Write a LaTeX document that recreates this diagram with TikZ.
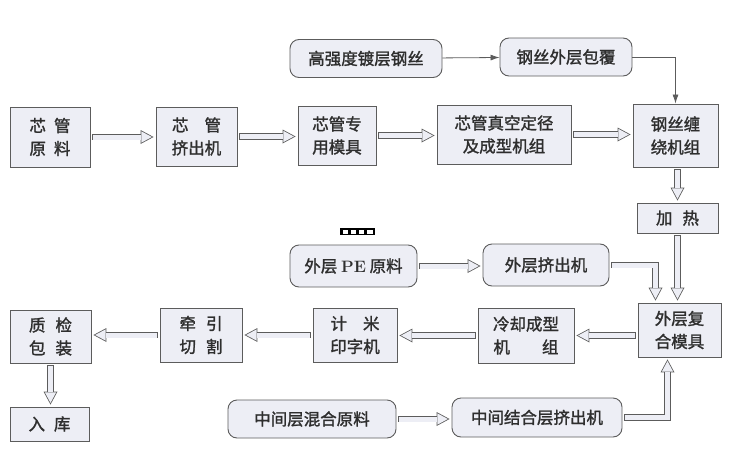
\documentclass[tikz,border=0pt]{standalone}
\usepackage{fontspec}
\usepackage{tikz}
\usetikzlibrary{arrows.meta,calc}
\newfontfamily\cjk[FakeBold=1.5]{Noto Sans CJK SC}
\definecolor{boxfill}{HTML}{EDEEF5}
\definecolor{edgegray}{HTML}{5C5C5C}
\definecolor{textgray}{HTML}{2E2E2E}
\tikzset{
  box/.style={
    draw=edgegray,
    fill=boxfill,
    line width=0.9pt,
    align=center,
    text=textgray,
    font=\cjk\fontsize{16.5}{23}\selectfont,
    inner sep=0pt
  },
  roundbox/.style={box, rounded corners=9pt},
  thinline/.style={draw=edgegray, line width=0.8pt, -{Latex[length=9pt,width=6pt]}},
  hollow/.style={
    draw=edgegray, line width=6.6pt, shorten >=2pt, shorten <=2pt,
    -{Triangle[length=13pt,width=14pt,line width=0pt]},
    postaction={draw=boxfill, line width=5pt, shorten >=3.7pt, shorten <=2.8pt,
      -{Triangle[length=10.5pt,width=11.3pt,line width=0pt]}}
  }
}

\begin{document}
\begin{tikzpicture}[x=1pt,y=-1pt]
  \path[use as bounding box] (0,0) rectangle (733,463);

  % steel wire feed
  \node[roundbox, minimum width=152, minimum height=38] (wire) at (366,58.5) {高强度镀层钢丝};
  \node[roundbox, minimum width=132, minimum height=38] (coat) at (566,57) {钢丝外层包覆};

  % core pipe line
  \node[box, minimum width=80, minimum height=60] (raw) at (50,137) {芯\hspace{8pt}管\\原\hspace{8pt}料};
  \node[box, minimum width=81, minimum height=59] (ext) at (196.5,136.5) {芯\hspace{16pt}管\\挤出机};
  \node[box, minimum width=78, minimum height=59] (die) at (337,135.5) {芯管专\\用模具};
  \node[box, minimum width=134, minimum height=59] (vac) at (504,134.5) {芯管真空定径\\及成型机组};
  \node[box, minimum width=85, minimum height=63] (wind) at (675.5,135.5) {钢丝缠\\绕机组};
  \node[box, minimum width=81, minimum height=30] (heat) at (677.5,218) {加\hspace{10pt}热};

  % outer layer
  \node[roundbox, minimum width=127, minimum height=42] (pe) at (353.5,266) {外层 {\rmfamily\bfseries PE} 原料};
  \node[roundbox, minimum width=126, minimum height=42] (oext) at (546,265) {外层挤出机};
  \node[box, minimum width=83, minimum height=54] (odie) at (679.5,330) {外层复\\合模具};

  % finishing line
  \node[box, minimum width=96, minimum height=55] (cool) at (526,335.5) {冷却成型\\机\hspace{32pt}组};
  \node[box, minimum width=84, minimum height=54] (meter) at (355,335) {计\hspace{16pt}米\\印字机};
  \node[box, minimum width=82, minimum height=54] (cut) at (201,335) {牵\hspace{10pt}引\\切\hspace{10pt}割};
  \node[box, minimum width=81, minimum height=53] (pack) at (50.5,336.5) {质\hspace{10pt}检\\包\hspace{10pt}装};
  \node[box, minimum width=79, minimum height=34] (store) at (49.5,424) {入\hspace{9pt}库};

  % middle layer
  \node[roundbox, minimum width=168, minimum height=38] (mid) at (312,419) {中间层混合原料};
  \node[roundbox, minimum width=170, minimum height=39] (midext) at (537,417.5) {中间结合层挤出机};

  % stray glyph marks
  \fill[black] (340,228.3) rectangle (375,235);
  \foreach \i in {0,...,3}
    \fill[white] ({342.7+8.2*\i},230) rectangle ({348+8.2*\i},233.6);

  \draw[thinline] (wire) -- (coat);
  \draw[thinline] (coat.east) -| (wind.north);

  \draw[hollow] (raw.east) -- (raw.east -| ext.west);
  \draw[hollow] (ext.east) -- (ext.east -| die.west);
  \draw[hollow] (die.east) -- (die.east -| vac.west);
  \draw[hollow] (vac.east) -- (vac.east -| wind.west);
  \draw[hollow] (heat.north |- wind.south) -- (heat.north);
  \draw[hollow] (heat.south) -- (heat.south |- odie.north);
  \draw[hollow] (pe.east) -- (pe.east -| oext.west);
  \draw[hollow] (oext.east) -| ([xshift=-24pt]odie.north);
  \draw[hollow] (cool.east -| odie.west) -- (cool.east);
  \draw[hollow] (cool.west) -- (cool.west -| meter.east);
  \draw[hollow] (meter.west) -- (meter.west -| cut.east);
  \draw[hollow] (cut.west) -- (cut.west -| pack.east);
  \draw[hollow] (pack.south) -- (pack.south |- store.north);
  \draw[hollow] (mid.east) -- (mid.east -| midext.west);
  \draw[hollow] (midext.east) -| ([xshift=-12pt]odie.south);
\end{tikzpicture}
\end{document}
